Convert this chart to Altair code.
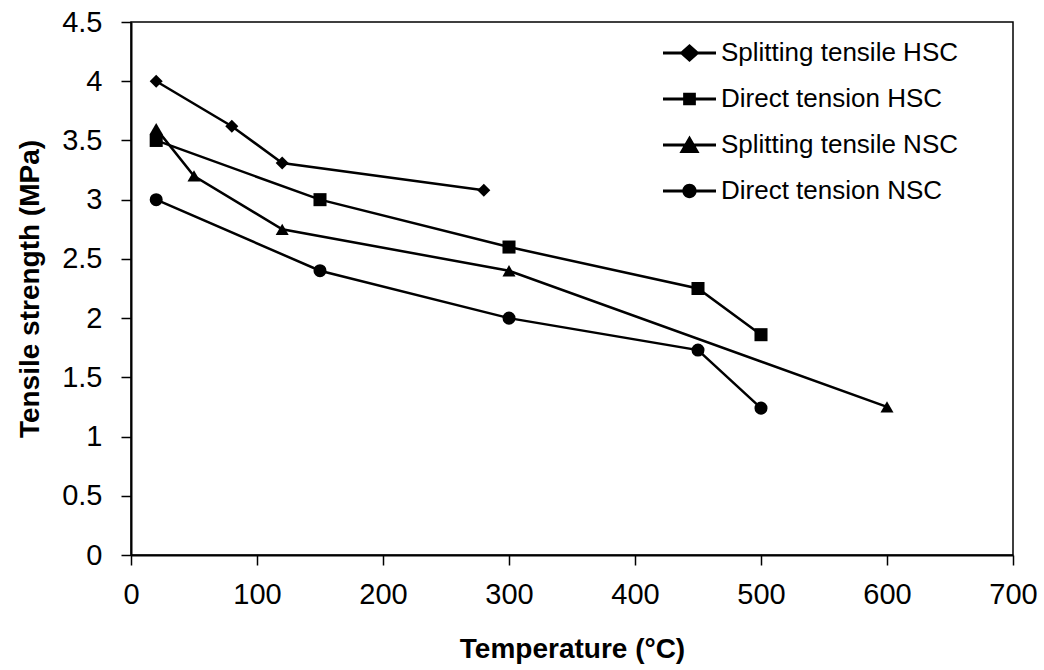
import altair as alt
import pandas as pd

series_names = ["Splitting tensile HSC", "Direct tension HSC",
                "Splitting tensile NSC", "Direct tension NSC"]
marker_shapes = ["diamond", "square", "triangle-up", "circle"]

st_hsc_t = [20, 80, 120, 280]
st_hsc_v = [4.0, 3.62, 3.31, 3.08]
dt_hsc_t = [20, 150, 300, 450, 500]
dt_hsc_v = [3.5, 3.0, 2.6, 2.25, 1.86]
st_nsc_t = [20, 50, 120, 300, 600]
st_nsc_v = [3.6, 3.2, 2.75, 2.4, 1.25]
dt_nsc_t = [20, 150, 300, 450, 500]
dt_nsc_v = [3.0, 2.4, 2.0, 1.73, 1.24]

x_ticks = [0, 100, 200, 300, 400, 500, 600, 700]
y_ticks = [0, 0.5, 1, 1.5, 2, 2.5, 3, 3.5, 4, 4.5]

rows = []
for name, ts, vs in zip(series_names,
                        [st_hsc_t, dt_hsc_t, st_nsc_t, dt_nsc_t],
                        [st_hsc_v, dt_hsc_v, st_nsc_v, dt_nsc_v]):
    for i, (t, v) in enumerate(zip(ts, vs)):
        rows.append({"series": name, "temp": t, "strength": v, "order": i})
df = pd.DataFrame(rows)

FONT = "Liberation Sans"

x_enc = alt.X("temp:Q", scale=alt.Scale(domain=[0, 700], nice=False),
              axis=alt.Axis(values=x_ticks, title="Temperature (°C)", grid=False,
                            labelFontSize=29, titleFontSize=28, titleFontWeight="bold",
                            labelFont=FONT, titleFont=FONT, tickSize=10, tickColor="black",
                            domainColor="black", domainWidth=2, tickWidth=1.5,
                            labelPadding=15, titlePadding=26, labelColor="black",
                            titleColor="black", labelFlush=False, labelOverlap=False))
y_enc = alt.Y("strength:Q", scale=alt.Scale(domain=[0, 4.5], nice=False),
              axis=alt.Axis(values=y_ticks, format=".1~f", title="Tensile strength (MPa)",
                            grid=False, labelFontSize=29, titleFontSize=28,
                            titleFontWeight="bold", labelFont=FONT, titleFont=FONT,
                            tickSize=10, tickColor="black", domainColor="black",
                            domainWidth=2, tickWidth=1.5, labelPadding=19,
                            titlePadding=17, labelColor="black", titleColor="black",
                            labelFlush=False, labelOverlap=False))

lines = alt.Chart(df).mark_line(color="black", strokeWidth=2.5).encode(
    x=x_enc, y=y_enc, detail="series:N", order="order:Q")

point_layers = []
for name, shp in zip(series_names, marker_shapes):
    point_layers.append(
        alt.Chart(df).transform_filter(alt.datum.series == name)
        .mark_point(filled=True, color="black", size=170, opacity=1, shape=shp)
        .encode(x=x_enc, y=y_enc))

BAR = "M-1,-0.055L1,-0.055L1,0.055L-1,0.055Z"
legend_paths = [
    BAR + "M0,-0.34L0.38,0L0,0.34L-0.38,0Z",
    BAR + "M-0.24,-0.24L0.24,-0.24L0.24,0.24L-0.24,0.24Z",
    BAR + "M0,-0.36L0.38,0.3L-0.38,0.3Z",
    BAR + "M0.27,0A0.27,0.27,0,1,1,-0.27,0A0.27,0.27,0,1,1,0.27,0Z",
]

legend_layer = alt.Chart(df).mark_point(fill="black", stroke="black", strokeWidth=0,
                                        opacity=0, size=2809).encode(
    x=x_enc, y=y_enc,
    shape=alt.Shape("series:N",
                    scale=alt.Scale(domain=series_names, range=legend_paths),
                    legend=alt.Legend(title=None, orient="none", legendX=532, legendY=8,
                                      symbolSize=2809, symbolOpacity=1,
                                      symbolFillColor="black",
                                      symbolStrokeWidth=0, labelFontSize=26,
                                      labelFont=FONT, labelColor="black", labelOffset=5,
                                      clipHeight=46, rowPadding=0, labelLimit=400)))

chart = alt.layer(lines, *point_layers, legend_layer).properties(
    width=882, height=533,
    padding={"left": 131, "top": 22, "right": 31, "bottom": 115},
    autosize=alt.AutoSizeParams(type="none"),
    background="white",
).configure_view(stroke="black", strokeWidth=1.5)

chart.save("out.html", embed_options={"renderer": "svg", "actions": False})
